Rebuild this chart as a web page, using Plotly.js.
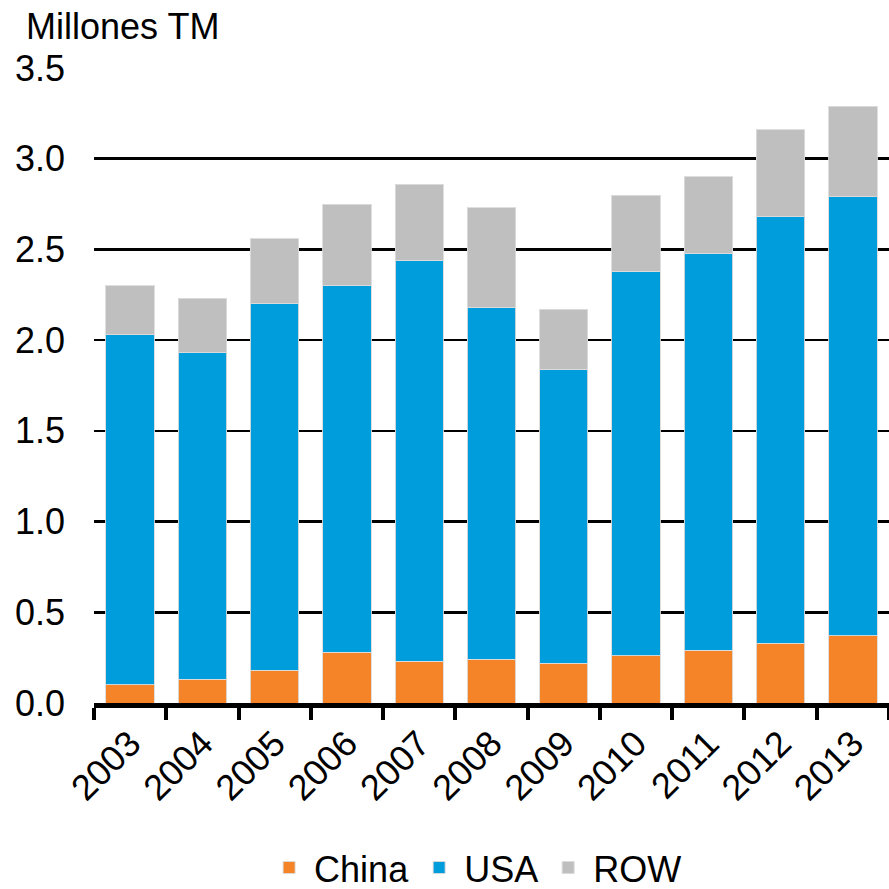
<!DOCTYPE html>
<html>
<head>
<meta charset="utf-8">
<script src="https://cdn.plot.ly/plotly-3.0.1.min.js"></script>
<style>html,body{margin:0;padding:0;background:#fff;}#chart{width:889px;height:889px;}</style>
</head>
<body>
<div id="chart"></div>
<script>
const years = ["2003","2004","2005","2006","2007","2008","2009","2010","2011","2012","2013"];
const china = [0.10, 0.13, 0.18, 0.28, 0.23, 0.24, 0.22, 0.26, 0.29, 0.33, 0.37];
const usa   = [1.93, 1.80, 2.02, 2.02, 2.21, 1.94, 1.62, 2.12, 2.19, 2.35, 2.42];
const row   = [0.27, 0.30, 0.36, 0.45, 0.42, 0.55, 0.33, 0.42, 0.42, 0.48, 0.50];
const yTicks = [0, 0.5, 1.0, 1.5, 2.0, 2.5, 3.0, 3.5];
const yTickText = ["0.0","0.5","1.0","1.5","2.0","2.5","3.0","3.5"];

const FF = "Liberation Sans, Arial, sans-serif";
const font = {family: FF, color: "#000", size: 36};
const edge = {color: "rgba(220,220,220,0.9)", width: 1};

const traces = [
  {type: "bar", name: "China", x: years, y: china, marker: {color: "#F58327", line: edge}},
  {type: "bar", name: "USA", x: years, y: usa, marker: {color: "#009DDC", line: edge}},
  {type: "bar", name: "ROW", x: years, y: row, marker: {color: "#BFBFBF", line: edge}}
];

const layout = {
  width: 889, height: 889,
  margin: {l: 94, r: 0, t: 68, b: 186, autoexpand: false},
  barmode: "stack",
  bargap: 0.33,
  paper_bgcolor: "#fff",
  plot_bgcolor: "#fff",
  font: font,
  showlegend: true,
  legend: {orientation: "h", traceorder: "normal", x: 0.48, xanchor: "center", y: -0.212, yanchor: "top",
           font: {family: FF, size: 36, color: "#000"}, itemwidth: 40, tracegroupgap: 0},
  xaxis: {
    type: "category",
    showline: true, linecolor: "#000", linewidth: 5,
    ticks: "outside", tickson: "boundaries", ticklen: 12, tickwidth: 4, tickcolor: "#000",
    tickangle: -45,
    tickfont: {family: FF, size: 36, color: "#000"},
    showgrid: false, zeroline: false, automargin: false
  },
  yaxis: {
    range: [0, 3.5],
    tickvals: yTicks, ticktext: yTickText,
    tickfont: {family: FF, size: 36, color: "#000"},
    showgrid: true, gridcolor: "#000", gridwidth: 2.5,
    zeroline: false, showline: false, ticks: "",
    ticklabelstandoff: 28, automargin: false
  },
  annotations: [{
    text: "Millones TM", xref: "paper", yref: "paper",
    x: -0.088, y: 1.03, xanchor: "left", yanchor: "bottom", showarrow: false,
    font: {family: FF, size: 36, color: "#000"}
  }]
};

Plotly.newPlot("chart", traces, layout, {displayModeBar: false, staticPlot: true});
</script>
</body>
</html>
